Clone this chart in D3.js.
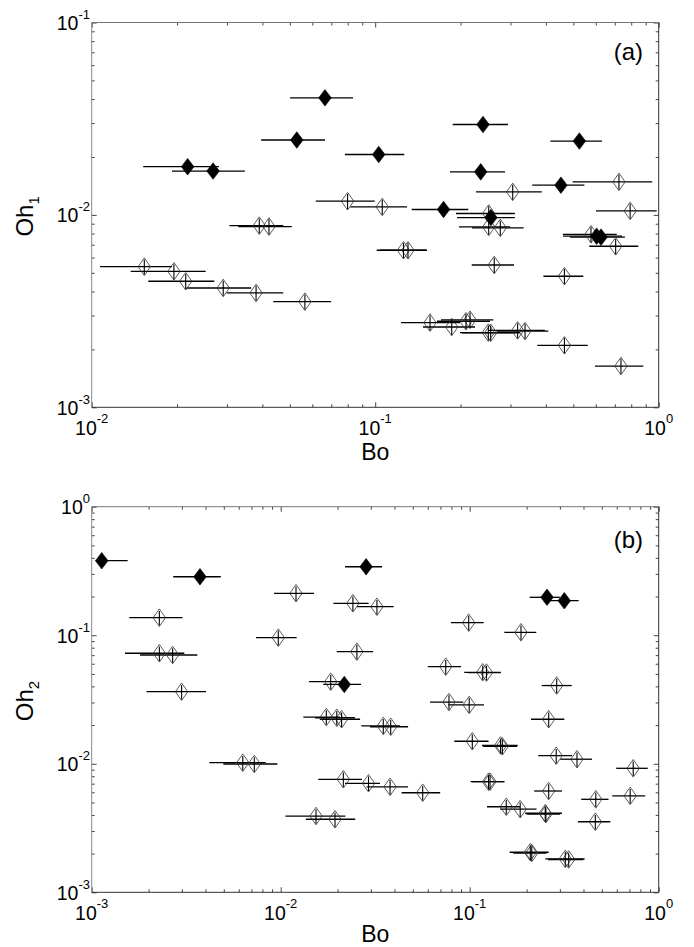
<!DOCTYPE html>
<html><head><meta charset="utf-8">
<script src="https://cdn.jsdelivr.net/npm/d3@7"></script>
<style>
body{margin:0;background:#fff}
svg{display:block}
text{font-family:"Liberation Sans",Arial,Helvetica,sans-serif;fill:#000}
</style>
</head><body>
<svg id="c" width="694" height="947"></svg>
<script>
// ---------- Panel (a): Oh1 vs Bo ----------
const aFilledBo   = [0.0665,0.0529,0.0218,0.0268,0.1029,0.240,0.525,0.2356,0.452,0.1742,0.256,0.604,0.626];
const aFilledBoLo = [0.0501,0.0396,0.0152,0.0192,0.0782,0.1877,0.415,0.1836,0.358,0.1345,0.1944,0.460,0.487];
const aFilledBoHi = [0.0835,0.0665,0.0281,0.0347,0.1266,0.294,0.631,0.287,0.547,0.213,0.311,0.742,0.760];
const aFilledOh   = [0.0406,0.0245,0.0178,0.0169,0.0206,0.0295,0.0242,0.01674,0.01427,0.01067,0.00969,0.00775,0.00766];

const aOpenBo   = [0.01533,0.0195,0.02146,0.0291,0.0380,0.0565,0.0390,0.0422,0.0799,0.1059,0.1258,0.1305,0.3055,0.724,0.793,0.2514,0.2514,0.2762,0.577,0.705,0.263,0.465,0.1561,0.1862,0.209,0.216,0.2506,0.2555,0.318,0.3377,0.465,0.736];
const aOpenBoLo = [0.0107,0.01373,0.01583,0.0216,0.0299,0.0437,0.0306,0.0329,0.0617,0.0817,0.1012,0.104,0.2268,0.497,0.601,0.1928,0.1975,0.2195,0.459,0.569,0.219,0.392,0.1233,0.1475,0.1652,0.1706,0.1991,0.2024,0.250,0.269,0.373,0.596];
const aOpenBoHi = [0.0192,0.02524,0.02707,0.0365,0.0474,0.0699,0.0474,0.0508,0.0996,0.1295,0.152,0.152,0.3867,0.949,0.984,0.311,0.299,0.334,0.711,0.847,0.3087,0.542,0.1991,0.2249,0.254,0.261,0.311,0.324,0.397,0.408,0.562,0.8825];
const aOpenOh   = [0.00538,0.00509,0.00452,0.00417,0.00393,0.00354,0.00879,0.00870,0.01178,0.01100,0.00655,0.00655,0.01317,0.01485,0.01049,0.01017,0.00866,0.00856,0.00793,0.00687,0.00549,0.00480,0.002755,0.002614,0.0028,0.00285,0.002444,0.00244,0.00251,0.00249,0.0021,0.001638];
const aOhRelErr = 0.09;

// ---------- Panel (b): Oh2 vs Bo ----------
const bFilledBo   = [0.00113,0.00374,0.0217,0.0283,0.2565,0.3166];
const bFilledBoLo = [0.00105,0.0027,0.0168,0.0219,0.2077,0.250];
const bFilledBoHi = [0.00155,0.00482,0.0266,0.0344,0.300,0.377];
const bFilledOh   = [0.380,0.285,0.0414,0.341,0.1973,0.1856];

const bOpenBo   = [0.00228,0.00228,0.00268,0.00299,0.01205,0.00971,0.0184,0.0241,0.0323,0.0253,0.0747,0.1172,0.1227,0.2886,0.0777,0.0994,0.2618,0.01743,0.0198,0.0210,0.0349,0.0382,0.1032,0.1456,0.1488,0.2869,0.3696,0.733,0.02145,0.02915,0.0379,0.0564,0.1258,0.1281,0.2618,0.4647,0.7066,0.1561,0.185,0.251,0.253,0.462,0.01538,0.01938,0.2092,0.213,0.3205,0.334,0.0063,0.00725,0.1868,0.0988];
const bOpenBoLo = [0.00158,0.0015,0.0018,0.00195,0.00922,0.0074,0.0141,0.019,0.0253,0.0198,0.060,0.0936,0.098,0.2404,0.0617,0.0771,0.211,0.01317,0.0152,0.0161,0.0267,0.0297,0.0829,0.1162,0.118,0.2304,0.3015,0.596,0.0158,0.0219,0.0285,0.0436,0.1012,0.103,0.2194,0.389,0.5675,0.1235,0.1446,0.1967,0.200,0.374,0.0106,0.0136,0.1628,0.170,0.2512,0.260,0.00419,0.00497,0.1525,0.0796];
const bOpenBoHi = [0.00302,0.00309,0.00362,0.00403,0.0150,0.01215,0.02145,0.0292,0.0396,0.0308,0.090,0.1459,0.146,0.3465,0.0925,0.119,0.3166,0.0206,0.0247,0.0263,0.0428,0.0472,0.1258,0.1795,0.178,0.348,0.4437,0.875,0.0269,0.0335,0.0472,0.0698,0.1525,0.1525,0.3078,0.5426,0.8485,0.1846,0.2256,0.3078,0.300,0.5546,0.022,0.0248,0.2618,0.255,0.406,0.400,0.00833,0.0096,0.2251,0.1186];
const bOpenOh   = [0.1369,0.0724,0.0702,0.03636,0.212,0.0957,0.0435,0.1772,0.1667,0.0745,0.0569,0.0515,0.0512,0.0406,0.0302,0.0287,0.0222,0.0231,0.0228,0.0222,0.0197,0.0194,0.01497,0.01387,0.01367,0.01155,0.01085,0.00922,0.00757,0.00705,0.00662,0.00595,0.00725,0.00725,0.00614,0.00529,0.00563,0.00463,0.00443,0.00412,0.00405,0.00354,0.00392,0.0037,0.00205,0.00202,0.00182,0.0018,0.01019,0.00996,0.1054,0.1252];
const bOhRelErr = 0.13;

// axis settings (decade exponents of the tick labels)
const aXTickExp = [-2,-1,0];
const aYTickExp = [-3,-2,-1];
const bXTickExp = [-3,-2,-1,0];
const bYTickExp = [-3,-2,-1,0];

const svg = d3.select('#c');
const LEFT = 91.7, RIGHT = 658.7;

function zip(bo, lo, hi, oh){ return bo.map((v,i)=>({x:v, lo:lo[i], hi:hi[i], y:oh[i]})); }

function panel(o){
  const x = d3.scaleLog().domain([10**o.xExp[0], 10**o.xExp[o.xExp.length-1]]).range([LEFT, RIGHT]);
  const y = d3.scaleLog().domain([10**o.yExp[0], 10**o.yExp[o.yExp.length-1]]).range([o.bottom, o.top]);
  const g = svg.append('g');

  const minors = (exps)=>{ const r=[]; for(let k=0;k<exps.length-1;k++) for(let m=2;m<=9;m++) r.push(m*10**exps[k]); return r; };
  const xMaj = o.xExp.map(e=>10**e), yMaj = o.yExp.map(e=>10**e);
  const xMin = minors(o.xExp), yMin = minors(o.yExp);

  const styleAxis = sel => { sel.select('.domain').remove(); sel.selectAll('line').attr('stroke','#444').attr('stroke-width',1); sel.selectAll('text').remove(); };
  [[xMaj,5],[xMin,3]].forEach(([vals,len])=>{
    g.append('g').attr('transform',`translate(0,${o.bottom})`).call(d3.axisBottom(x).tickValues(vals).tickSize(-len).tickFormat('')).call(styleAxis);
    g.append('g').attr('transform',`translate(0,${o.top})`).call(d3.axisTop(x).tickValues(vals).tickSize(-len).tickFormat('')).call(styleAxis);
  });
  [[yMaj,5],[yMin,3]].forEach(([vals,len])=>{
    g.append('g').attr('transform',`translate(${LEFT},0)`).call(d3.axisLeft(y).tickValues(vals).tickSize(-len).tickFormat('')).call(styleAxis);
    g.append('g').attr('transform',`translate(${RIGHT},0)`).call(d3.axisRight(y).tickValues(vals).tickSize(-len).tickFormat('')).call(styleAxis);
  });
  // box
  g.append('line').attr('x1',LEFT).attr('x2',RIGHT).attr('y1',o.top).attr('y2',o.top).attr('stroke','#777');
  g.append('line').attr('x1',LEFT).attr('x2',LEFT).attr('y1',o.top).attr('y2',o.bottom).attr('stroke','#888');
  g.append('line').attr('x1',LEFT).attr('x2',RIGHT).attr('y1',o.bottom).attr('y2',o.bottom).attr('stroke','#333');
  g.append('line').attr('x1',RIGHT).attr('x2',RIGHT).attr('y1',o.top).attr('y2',o.bottom).attr('stroke','#333');

  // tick labels
  o.xExp.forEach(e=>{
    const t = g.append('text').attr('x',x(10**e)).attr('y',o.bottom+27.5).attr('text-anchor','middle').attr('font-size',19.5);
    t.append('tspan').text('10');
    t.append('tspan').attr('dy',-12).attr('font-size',13).text(String(e));
  });
  o.yExp.forEach(e=>{
    const t = g.append('text').attr('x',90).attr('y',y(10**e)+7.3).attr('text-anchor','end').attr('font-size',19.5);
    t.append('tspan').text('10');
    t.append('tspan').attr('dy',-11).attr('font-size',13).text(String(e));
  });
  // axis labels
  g.append('text').attr('x',(LEFT+RIGHT)/2).attr('y',o.bottom+o.xlabDy).attr('text-anchor','middle').attr('font-size',23).text('Bo');
  const yl = g.append('text').attr('transform',`translate(33,${(o.top+o.bottom)/2+1.5}) rotate(-90)`).attr('text-anchor','middle').attr('font-size',24);
  yl.append('tspan').text('Oh');
  yl.append('tspan').attr('dy',6).attr('font-size',15).text(o.sub);
  g.append('text').attr('x',643).attr('y',o.top+o.tagDy).attr('text-anchor','end').attr('font-size',24).text(o.tag);

  const filled = zip(o.fBo,o.fLo,o.fHi,o.fOh), open = zip(o.oBo,o.oLo,o.oHi,o.oOh);
  const all = open.concat(filled);
  // horizontal error bars
  g.selectAll(null).data(all).enter().append('line')
    .attr('x1',d=>x(d.lo)).attr('x2',d=>x(d.hi)).attr('y1',d=>y(d.y)).attr('y2',d=>y(d.y))
    .attr('stroke','#000').attr('stroke-width',1.3);
  const dia = (hw,hh)=>`M0,${-hh}L${hw},0L0,${hh}L${-hw},0Z`;
  g.selectAll(null).data(open).enter().append('path')
    .attr('d',dia(6.2,8.8)).attr('transform',d=>`translate(${x(d.x)},${y(d.y)})`)
    .attr('fill','none').attr('stroke','#333').attr('stroke-width',0.8);
  // vertical error bars
  g.selectAll(null).data(open).enter().append('line')
    .attr('x1',d=>x(d.x)).attr('x2',d=>x(d.x)).attr('y1',d=>y(d.y*(1-o.err))).attr('y2',d=>y(d.y*(1+o.err)))
    .attr('stroke','#000').attr('stroke-width',1.1);
  g.selectAll(null).data(filled).enter().append('path')
    .attr('d',dia(6.3,8.3)).attr('transform',d=>`translate(${x(d.x)},${y(d.y)})`)
    .attr('fill','#000').attr('stroke','#000').attr('stroke-width',0.6);
}

panel({xExp:aXTickExp, yExp:aYTickExp, top:22.5, bottom:407.3, sub:'1', tag:'(a)', tagDy:37.5, xlabDy:52.5, err:aOhRelErr,
  fBo:aFilledBo,fLo:aFilledBoLo,fHi:aFilledBoHi,fOh:aFilledOh,
  oBo:aOpenBo,oLo:aOpenBoLo,oHi:aOpenBoHi,oOh:aOpenOh});
panel({xExp:bXTickExp, yExp:bYTickExp, top:506.7, bottom:892.3, sub:'2', tag:'(b)', tagDy:41, xlabDy:49.3, err:bOhRelErr,
  fBo:bFilledBo,fLo:bFilledBoLo,fHi:bFilledBoHi,fOh:bFilledOh,
  oBo:bOpenBo,oLo:bOpenBoLo,oHi:bOpenBoHi,oOh:bOpenOh});
</script>
</body></html>
